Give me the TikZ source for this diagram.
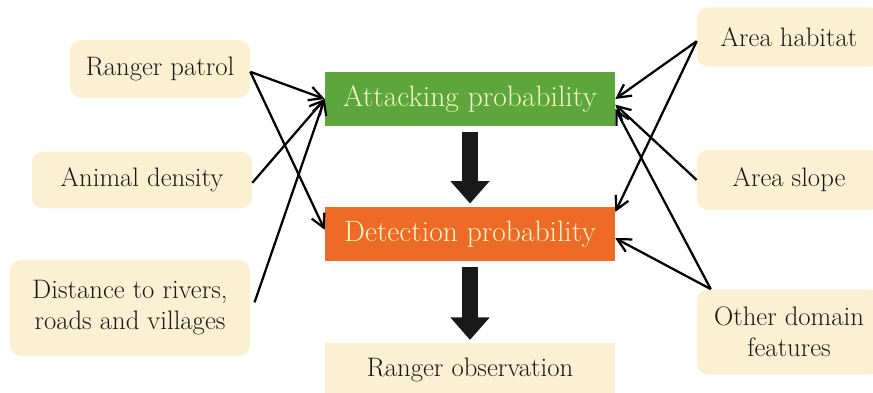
\documentclass[tikz,border=0pt]{standalone}
\usetikzlibrary{arrows.meta}
\definecolor{creamfill}{HTML}{FCF0D3}
\definecolor{attackgreen}{HTML}{5CA63C}
\definecolor{detectorange}{HTML}{EE6A27}
\definecolor{paletext}{HTML}{F6F5C8}
\begin{document}
\begin{tikzpicture}[x=0.025cm,y=-0.025cm,
    factor/.style={fill=creamfill,rounded corners=8pt,align=center,
      font=\rmfamily\fontsize{19}{22}\selectfont,text=black!90},
    prob/.style={minimum width=7.25cm,minimum height=1.37cm,
      font=\rmfamily\fontsize{21}{24}\selectfont,text=paletext},
    link/.style={line width=1.6pt,-{Straight Barb[length=3.3mm,width=3.5mm]}},
    bigarrow/.style={line width=12pt,black!90,-{Triangle[length=16pt,width=27pt]}}]
    \useasboundingbox (0,0) rectangle (873,393);
    %% Factors on the left
    \node[factor,minimum width=4.5cm,minimum height=1.45cm] (patrol) at (160,69) {Ranger patrol};
    \node[factor,minimum width=5.5cm,minimum height=1.42cm] (density) at (142,180) {Animal density};
    \node[factor,minimum width=6.0cm,minimum height=2.4cm] (distance) at (130,308) {Distance to rivers,\\roads and villages};
    %% Factors on the right
    \node[factor,minimum width=4.6cm,minimum height=1.48cm] (habitat) at (789,37) {Area habitat};
    \node[factor,minimum width=4.6cm,minimum height=1.5cm] (slope) at (789,180) {Area slope};
    \node[factor,minimum width=4.6cm,minimum height=2.13cm] (other) at (789,332) {Other domain\\features};
    %% Probabilities
    \node[prob,fill=attackgreen] (attack) at (470,99) {Attacking probability};
    \node[prob,fill=detectorange] (detect) at (470,234) {Detection probability};
    \node[factor,rounded corners=0pt,minimum width=7.25cm,minimum height=1.35cm] (observe) at (470,370) {Ranger observation};
    %% Influences
    \draw[link] ([yshift=-2pt]patrol.east) -- (attack.west);
    \draw[link] ([yshift=-2pt]patrol.east) -- ([yshift=3pt]detect.west);
    \draw[link] ([yshift=-2pt]density.east) -- (attack.west);
    \draw[link] ([xshift=3pt,yshift=4pt]distance.east) -- (attack.west);
    \draw[link] ([yshift=-3pt]habitat.west) -- (attack.east);
    \draw[link] ([yshift=-3pt]habitat.west) -- ([yshift=-4pt]detect.north east);
    \draw[link] (slope.west) -- ([yshift=-4pt]attack.east);
    \draw[link] ([xshift=10pt]other.north west) -- ([yshift=-7pt]attack.east);
    \draw[link] ([xshift=10pt]other.north west) -- ([yshift=-3pt]detect.east);
    %% Flow
    \draw[bigarrow] ([yshift=-4pt]attack.south) -- ([yshift=2pt]detect.north);
    \draw[bigarrow] ([yshift=-4pt]detect.south) -- ([yshift=2pt]observe.north);
\end{tikzpicture}
\end{document}
